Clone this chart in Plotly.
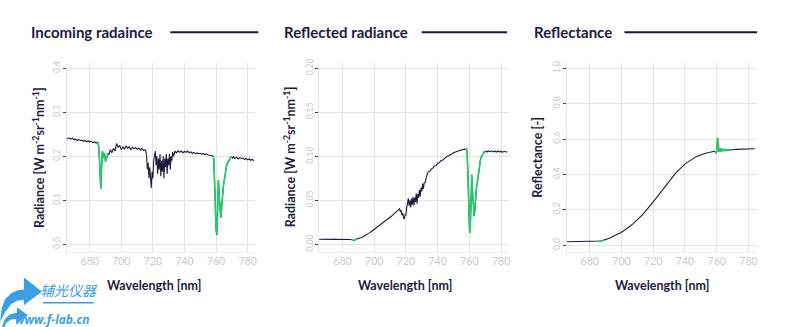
import numpy as np
import plotly.graph_objects as go

# ---------------- data ----------------
wavelength = [
    665, 666, 667, 668, 669, 670, 671, 672, 673, 674, 675, 676, 677, 678, 679, 680, 681, 682, 683, 684,
    685, 685.5, 686, 686.5, 687, 687.5, 688, 688.5, 689, 689.5, 690, 690.5, 691, 691.5, 692,
    693, 694, 695, 696, 697, 698, 699, 700, 701, 702, 703, 704, 705, 706, 707, 708, 709, 710, 711, 712, 713, 714,
    715, 715.5, 716, 716.5, 717, 717.5, 718, 718.5, 719, 719.5, 720, 720.5, 721, 721.5, 722, 722.5, 723, 723.5,
    724, 724.5, 725, 725.5, 726, 726.5, 727, 727.5, 728, 728.5, 729, 729.5, 730, 730.5, 731, 731.5, 732, 732.5,
    733, 733.5, 734,
    735, 736, 737, 738, 739, 740, 741, 742, 743, 744, 745, 746, 747, 748, 749, 750, 751, 752, 753, 754, 755, 756, 757,
    758, 758.5, 759, 759.5, 760, 760.5, 761, 761.5, 762, 762.5, 763, 763.5, 764, 764.5, 765, 765.5, 766, 766.5,
    767, 767.5, 768, 768.5, 769, 769.5, 770, 770.5, 771,
    772, 773, 774, 775, 776, 777, 778, 779, 780, 781, 782, 783, 784,
]

incoming_radiance = [
    0.243, 0.240, 0.242, 0.239, 0.241, 0.238, 0.239, 0.236, 0.238, 0.236, 0.237, 0.234, 0.236, 0.233, 0.235, 0.233, 0.234, 0.231, 0.233, 0.230,
    0.232, 0.228, 0.205, 0.150, 0.127, 0.175, 0.212, 0.205, 0.196, 0.206, 0.188, 0.200, 0.197, 0.207, 0.203,
    0.215, 0.208, 0.218, 0.212, 0.229, 0.220, 0.225, 0.215, 0.222, 0.216, 0.224, 0.218, 0.222, 0.215, 0.221, 0.217, 0.220, 0.216, 0.219, 0.214, 0.218, 0.213,
    0.215, 0.212, 0.200, 0.170, 0.185, 0.150, 0.175, 0.135, 0.128, 0.165, 0.150, 0.190, 0.205, 0.212, 0.180, 0.200, 0.160, 0.195,
    0.170, 0.205, 0.155, 0.190, 0.165, 0.200, 0.150, 0.195, 0.175, 0.205, 0.160, 0.195, 0.180, 0.205, 0.170, 0.200, 0.190, 0.210,
    0.200, 0.208, 0.212,
    0.208, 0.213, 0.209, 0.212, 0.208, 0.211, 0.209, 0.212, 0.208, 0.210, 0.207, 0.209, 0.206, 0.208, 0.206, 0.207, 0.205, 0.206, 0.204, 0.205, 0.203, 0.203, 0.202,
    0.201, 0.195, 0.150, 0.080, 0.035, 0.021, 0.080, 0.146, 0.110, 0.070, 0.060, 0.080, 0.110, 0.128, 0.140, 0.155, 0.168, 0.176,
    0.183, 0.186, 0.190, 0.192, 0.196, 0.199, 0.198, 0.196, 0.199,
    0.195, 0.198, 0.194, 0.197, 0.195, 0.196, 0.193, 0.195, 0.192, 0.194, 0.191, 0.193, 0.190,
]

reflected_radiance = [
    0.0057, 0.0056, 0.0057, 0.0056, 0.0056, 0.0057, 0.0056, 0.0056, 0.0057, 0.0056, 0.0056, 0.0056, 0.0057, 0.0056, 0.0056, 0.0056, 0.0057, 0.0056, 0.0056, 0.0056,
    0.0056, 0.0056, 0.0055, 0.0048, 0.0042, 0.0048, 0.0058, 0.0057, 0.0060, 0.0062, 0.0064, 0.0067, 0.0070, 0.0074, 0.0078,
    0.0086, 0.0095, 0.0106, 0.0118, 0.0130, 0.0143, 0.0156, 0.0169, 0.0182, 0.0196, 0.0210, 0.0224, 0.0238, 0.0252, 0.0266, 0.0280, 0.0294, 0.0308, 0.0322, 0.0337, 0.0352, 0.0366,
    0.0380, 0.0390, 0.0405, 0.0370, 0.0385, 0.0330, 0.0355, 0.0300, 0.0290, 0.0340, 0.0330, 0.0420, 0.0480, 0.0520, 0.0440, 0.0500, 0.0420, 0.0520,
    0.0450, 0.0540, 0.0440, 0.0530, 0.0480, 0.0580, 0.0460, 0.0570, 0.0530, 0.0620, 0.0540, 0.0640, 0.0600, 0.0690, 0.0630, 0.0700, 0.0700, 0.0760,
    0.0770, 0.0800, 0.0820,
    0.0830, 0.0855, 0.0865, 0.0890, 0.0895, 0.0920, 0.0925, 0.0950, 0.0955, 0.0975, 0.0985, 0.1000, 0.1005, 0.1020, 0.1025, 0.1040, 0.1045, 0.1055, 0.1060, 0.1070, 0.1068, 0.1080, 0.1078,
    0.1085, 0.1060, 0.0850, 0.0450, 0.0200, 0.0130, 0.0400, 0.0790, 0.0600, 0.0380, 0.0320, 0.0400, 0.0560, 0.0650, 0.0700, 0.0780, 0.0860, 0.0920,
    0.0960, 0.0990, 0.1010, 0.1030, 0.1045, 0.1055, 0.1050, 0.1058, 0.1048,
    0.1060, 0.1052, 0.1062, 0.1050, 0.1058, 0.1048, 0.1060, 0.1050, 0.1055, 0.1047, 0.1056, 0.1048, 0.1052,
]

reflectance = [
    0.0200, 0.0200, 0.0200, 0.0200, 0.0200, 0.0200, 0.0200, 0.0200, 0.0200, 0.0200, 0.0200, 0.0200, 0.0200, 0.0200, 0.0200, 0.0200, 0.0201, 0.0203, 0.0206, 0.0210,
    0.0215, 0.0219, 0.0224, 0.0231, 0.0239, 0.0249, 0.0260, 0.0273, 0.0288, 0.0304, 0.0322, 0.0336, 0.0351, 0.0367, 0.0383,
    0.0418, 0.0456, 0.0497, 0.0540, 0.0586, 0.0635, 0.0686, 0.0740, 0.0796, 0.0855, 0.0917, 0.0981, 0.1048, 0.1118, 0.1191, 0.1268, 0.1348, 0.1431, 0.1518, 0.1608, 0.1702, 0.1799,
    0.1899, 0.1950, 0.2002, 0.2055, 0.2109, 0.2163, 0.2218, 0.2274, 0.2331, 0.2388, 0.2446, 0.2505, 0.2564, 0.2623, 0.2683, 0.2743, 0.2804, 0.2865,
    0.2926, 0.2988, 0.3050, 0.3112, 0.3173, 0.3233, 0.3292, 0.3350, 0.3407, 0.3464, 0.3520, 0.3575, 0.3629, 0.3686, 0.3742, 0.3797, 0.3851, 0.3904,
    0.3956, 0.4007, 0.4057,
    0.4155, 0.4249, 0.4339, 0.4424, 0.4505, 0.4582, 0.4655, 0.4723, 0.4787, 0.4846, 0.4900, 0.4950, 0.4996, 0.5038, 0.5076, 0.5110, 0.5141, 0.5170, 0.5196, 0.5220, 0.5242, 0.5262, 0.5281,
    0.5299, 0.5307, 0.5280, 0.5220, 0.5280, 0.6070, 0.5650, 0.5280, 0.5480, 0.5300, 0.5460, 0.5320, 0.5430, 0.5340, 0.5410, 0.5350, 0.5400, 0.5360,
    0.5400, 0.5370, 0.5390, 0.5380, 0.5395, 0.5400, 0.5405, 0.5410, 0.5413,
    0.5416, 0.5419, 0.5422, 0.5425, 0.5428, 0.5431, 0.5434, 0.5437, 0.5440, 0.5443, 0.5446, 0.5449, 0.5452,
]

panel_titles = ["Incoming radaince", "Reflected radiance", "Reflectance"]
y_titles = ["Radiance [W m<sup>-2</sup>sr<sup>-1</sup>nm<sup>-1</sup>]",
            "Radiance [W m<sup>-2</sup>sr<sup>-1</sup>nm<sup>-1</sup>]",
            "Reflectance [-]"]
x_title = "Wavelength [nm]"
x_ticks = [680, 700, 720, 740, 760, 780]
y_ticks = [[0.0, 0.1, 0.2, 0.3, 0.4],
           [0.00, 0.05, 0.10, 0.15, 0.20],
           [0.0, 0.2, 0.4, 0.6, 0.8, 1.0]]
y_tick_fmt = [".1f", ".2f", ".1f"]
# O2 absorption-band wavelength ranges highlighted in green, per panel
green_bands = [[(685, 691.5), (758, 770)],
               [(685.5, 688.5), (758, 770)],
               [(685.5, 689), (759, 768)]]

assert len(wavelength) == len(incoming_radiance) == len(reflected_radiance) == len(reflectance)

# ---------------- styling / layout ----------------
W, H = 789, 327
NAVY = "#1e1b3a"
GREEN = "#22cc6c"
GRID = "#e3e3e3"
TICKC = "#c9c9c9"
FONT = "Lato"

def px(x):
    return x / W

def py(y):
    return 1 - y / H

x_dom = [(66.7, 255.7), (320, 510), (568.3, 759.3)]
y_dom = (py(250.7), py(59.3))
x_ranges = [[665.3, 784.7], [665.3, 784.8], [665.6, 785.6]]
y_ranges = [[-0.0166, 0.413], [-0.0083, 0.2064], [-0.036, 1.032]]

series = [incoming_radiance, reflected_radiance, reflectance]
wl = np.array(wavelength)

fig = go.Figure()
for i, vals in enumerate(series):
    xa = "x" if i == 0 else f"x{i+1}"
    ya = "y" if i == 0 else f"y{i+1}"
    v = np.array(vals)
    fig.add_trace(go.Scatter(x=wl, y=v, mode="lines", xaxis=xa, yaxis=ya,
                             line=dict(color=NAVY, width=1.1), showlegend=False, hoverinfo="skip"))
    for lo, hi in green_bands[i]:
        m = (wl >= lo) & (wl <= hi)
        fig.add_trace(go.Scatter(x=wl[m], y=v[m], mode="lines", xaxis=xa, yaxis=ya,
                                 line=dict(color=GREEN, width=1.6), showlegend=False, hoverinfo="skip"))

layout = dict(width=W, height=H, margin=dict(l=0, r=0, t=0, b=0),
              paper_bgcolor="white", plot_bgcolor="white", showlegend=False,
              font=dict(family=FONT, color=NAVY))
for i in range(3):
    xk = "xaxis" if i == 0 else f"xaxis{i+1}"
    yk = "yaxis" if i == 0 else f"yaxis{i+1}"
    xa = "x" if i == 0 else f"x{i+1}"
    ya = "y" if i == 0 else f"y{i+1}"
    layout[xk] = dict(domain=[px(x_dom[i][0]), px(x_dom[i][1])], range=x_ranges[i], anchor=ya,
                      tickvals=x_ticks, showgrid=True, gridcolor=GRID, gridwidth=1,
                      zeroline=False, showline=True, linecolor="#ececec", linewidth=1, ticks="",
                      tickfont=dict(family=FONT, size=10.5, color=TICKC))
    layout[yk] = dict(domain=list(y_dom), range=y_ranges[i], anchor=xa,
                      tickvals=y_ticks[i], tickformat=y_tick_fmt[i], tickangle=-90,
                      showgrid=True, gridcolor=GRID, gridwidth=1, zeroline=False,
                      showline=True, linecolor="#e6e6e6", linewidth=1,
                      ticks="outside", ticklen=3, tickcolor="#444", tickwidth=1,
                      ticklabelstandoff=-1,
                      tickfont=dict(family=FONT, size=8.5, color=TICKC))
fig.update_layout(**layout)

annotations = []
shapes = []
title_pos = [(29, 170.7, 259), (283, 422.7, 508.3), (533, 626, 759)]
ytitle_x = [38, 290, 538]
xtitle_x = [155, 407, 664]
for i in range(3):
    tx, l0, l1 = title_pos[i]
    annotations.append(dict(x=px(tx), y=py(28), xref="paper", yref="paper", text=f"<b>{panel_titles[i]}</b>",
                            showarrow=False, xanchor="left", yanchor="middle",
                            font=dict(family=FONT, size=15, color=NAVY)))
    shapes.append(dict(type="line", xref="paper", yref="paper", x0=px(l0), x1=px(l1), y0=py(28.5), y1=py(28.5),
                       line=dict(color=NAVY, width=2)))
    annotations.append(dict(x=px(ytitle_x[i]), y=py(155), xref="paper", yref="paper", text=f"<b>{y_titles[i]}</b>",
                            showarrow=False, textangle=-90, xanchor="center", yanchor="middle",
                            font=dict(family=FONT, size=12.5, color=NAVY)))
    annotations.append(dict(x=px(xtitle_x[i]), y=py(285), xref="paper", yref="paper", text=f"<b>{x_title}</b>",
                            showarrow=False, xanchor="center", yanchor="middle",
                            font=dict(family=FONT, size=12.5, color=NAVY)))

# watermark logo
BLUE = "#3a9fe4"
def poly(points):
    return "M " + " L ".join(f"{px(a):.5f},{py(b):.5f}" for a, b in points) + " Z"

arrow1 = poly([(0, 322), (1.5, 309), (5, 299), (11, 293), (17, 290), (24, 289), (24, 277), (42, 291),
               (24, 305), (24, 299.5), (17, 300.5), (11, 304), (5, 312)])
arrow2 = poly([(2, 327), (5, 319), (10, 314), (17, 312.5), (17, 307), (28, 315), (17, 323), (17, 319),
               (11, 319.5), (6, 323), (4.5, 327)])
shapes.append(dict(type="path", xref="paper", yref="paper", path=arrow1, fillcolor=BLUE, line=dict(width=0)))
shapes.append(dict(type="path", xref="paper", yref="paper", path=arrow2, fillcolor=BLUE, line=dict(width=0)))
shapes.append(dict(type="line", xref="paper", yref="paper", x0=px(43), x1=px(94), y0=py(302.5), y1=py(302.5),
                   line=dict(color=BLUE, width=1.5)))
annotations.append(dict(x=px(69.5), y=py(290), xref="paper", yref="paper", text="<i>辅光仪器</i>", showarrow=False,
                        xanchor="center", yanchor="middle",
                        font=dict(family="Noto Sans CJK SC", size=14, color=BLUE)))
annotations.append(dict(x=px(13), y=py(319), xref="paper", yref="paper", text="<i><b>www.f-lab.cn</b></i>", showarrow=False,
                        xanchor="left", yanchor="middle",
                        font=dict(family="Open Sans", size=12, color=BLUE)))

fig.update_layout(annotations=annotations, shapes=shapes)
fig.write_html("out.html")
